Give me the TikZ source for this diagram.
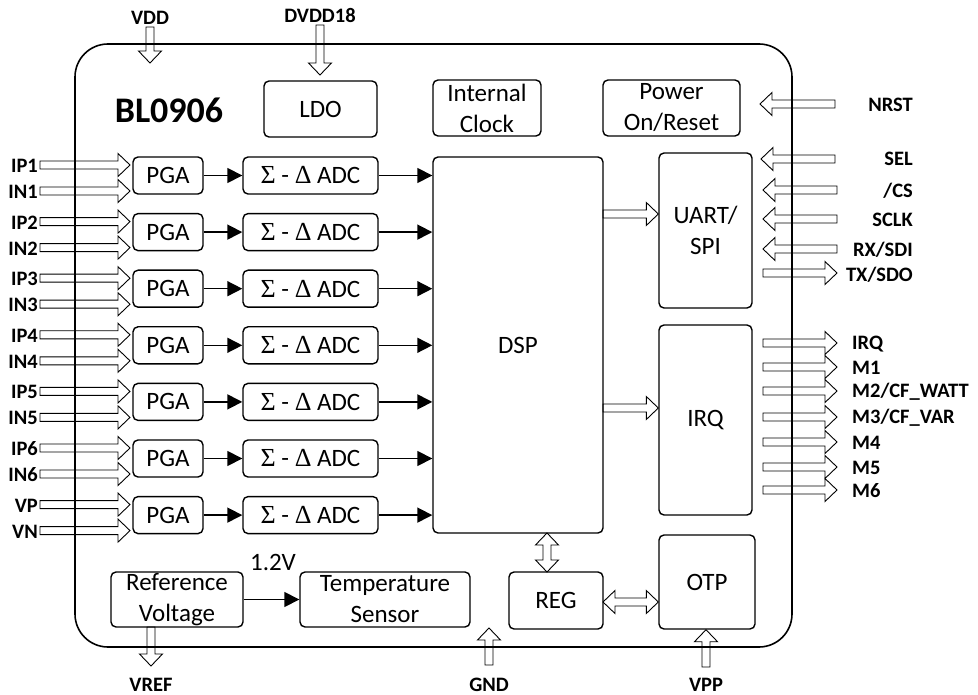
\documentclass[tikz,border=0pt]{standalone}
\usepackage{fontspec}
\setmainfont{Carlito}
\newfontfamily\grk{Liberation Serif}
\usetikzlibrary{arrows.meta,calc}
\tikzset{
 box/.style={draw, line width=1.4pt, rounded corners=5pt, align=center, inner sep=0pt, font=\fontsize{25}{31}\selectfont},
 blk/.style={draw, line width=0.9pt, line join=miter},
 pin/.style={font=\fontsize{20.5}{24}\selectfont\bfseries, inner sep=0pt},
 conn/.style={line width=1.6pt, -{Triangle[length=15pt,width=15pt]}},
 plain/.style={font=\fontsize{25}{30}\selectfont, inner sep=0pt},
}
% hollow block arrows between two points (tip at second)
\newcommand{\arrR}[2]{\draw[blk] let \p1=(#1), \p2=(#2) in (\x1,\y1+4pt) -- (\x2-12pt,\y1+4pt) -- (\x2-12pt,\y1+11.5pt) -- (\x2,\y1) -- (\x2-12pt,\y1-11.5pt) -- (\x2-12pt,\y1-4pt) -- (\x1,\y1-4pt) -- cycle;}
\newcommand{\arrL}[2]{\draw[blk] let \p1=(#1), \p2=(#2) in (\x1,\y1+4pt) -- (\x2+12pt,\y1+4pt) -- (\x2+12pt,\y1+11.5pt) -- (\x2,\y1) -- (\x2+12pt,\y1-11.5pt) -- (\x2+12pt,\y1-4pt) -- (\x1,\y1-4pt) -- cycle;}
\newcommand{\arrD}[2]{\draw[blk] let \p1=(#1), \p2=(#2) in (\x1-4pt,\y1) -- (\x1-4pt,\y2+12pt) -- (\x1-11.5pt,\y2+12pt) -- (\x1,\y2) -- (\x1+11.5pt,\y2+12pt) -- (\x1+4pt,\y2+12pt) -- (\x1+4pt,\y1) -- cycle;}
\newcommand{\arrU}[2]{\draw[blk] let \p1=(#1), \p2=(#2) in (\x1-4pt,\y1) -- (\x1-4pt,\y2-12pt) -- (\x1-11.5pt,\y2-12pt) -- (\x1,\y2) -- (\x1+11.5pt,\y2-12pt) -- (\x1+4pt,\y2-12pt) -- (\x1+4pt,\y1) -- cycle;}
\newcommand{\darrH}[2]{\draw[blk] let \p1=(#1), \p2=(#2) in (\x1,\y1) -- (\x1+12pt,\y1+11.5pt) -- (\x1+12pt,\y1+4pt) -- (\x2-12pt,\y1+4pt) -- (\x2-12pt,\y1+11.5pt) -- (\x2,\y1) -- (\x2-12pt,\y1-11.5pt) -- (\x2-12pt,\y1-4pt) -- (\x1+12pt,\y1-4pt) -- (\x1+12pt,\y1-11.5pt) -- cycle;}
\newcommand{\darrV}[2]{\draw[blk] let \p1=(#1), \p2=(#2) in (\x1,\y1) -- (\x1+11.5pt,\y1-12pt) -- (\x1+4pt,\y1-12pt) -- (\x1+4pt,\y2+12pt) -- (\x1+11.5pt,\y2+12pt) -- (\x1,\y2) -- (\x1-11.5pt,\y2+12pt) -- (\x1-4pt,\y2+12pt) -- (\x1-4pt,\y1-12pt) -- (\x1-11.5pt,\y1-12pt) -- cycle;}
\begin{document}
\begin{tikzpicture}[x=1pt,y=-1pt]
\useasboundingbox (0,0) rectangle (978,695);
% chip outline
\draw[line width=1.6pt, rounded corners=33pt] (75,44) rectangle (792,647);
\node[font=\fontsize{36}{42}\selectfont\bfseries, inner sep=0pt] (title) at (169,110) {BL0906};
% top blocks
\node[box, minimum width=113pt, minimum height=56pt] (ldo) at (320.5,109) {LDO};
\node[box, minimum width=108pt, minimum height=56pt] (clk) at (487,108) {Internal\\Clock};
\node[box, minimum width=137pt, minimum height=56pt] (por) at (671.5,108) {Power\\On/Reset};
% main blocks
\node[box, minimum width=170pt, minimum height=376pt] (dsp) at (518,345) {DSP};
\node[box, minimum width=93pt, minimum height=155pt] (uart) at (705.5,230.5) {UART/\\SPI};
\node[box, minimum width=93pt, minimum height=190pt] (irq) at (705.5,420) {IRQ};
\node[box, minimum width=96pt, minimum height=94pt] (otp) at (707,582) {OTP};
\node[box, minimum width=94pt, minimum height=57pt] (reg) at (556,600.5) {REG};
\node[box, minimum width=132pt, minimum height=55pt] (ref) at (177,599.5) {Reference\\Voltage};
\node[box, minimum width=170pt, minimum height=55pt] (temp) at (385,599.5) {Temperature\\Sensor};
% PGA / ADC rows
\foreach \pp/\nn [count=\i from 0] in {IP1/IN1,IP2/IN2,IP3/IN3,IP4/IN4,IP5/IN5,IP6/IN6,VP/VN}{
  \pgfmathsetmacro\yc{175.5+56.6*\i}
  \pgfmathsetmacro\ya{\yc-10.5}
  \pgfmathsetmacro\yb{\yc+15.5}
  \node[box, minimum width=70pt, minimum height=37pt] (pga\i) at (168,\yc) {PGA};
  \node[box, minimum width=135pt, minimum height=37pt] (adc\i) at (310.5,\yc) {{\grk\fontsize{26}{30}\selectfont Σ} - {\grk\fontsize{26}{30}\selectfont Δ} ADC};
  \draw[conn] (pga\i.east) -- (adc\i.west);
  \draw[conn] (adc\i.east) -- (adc\i.east -| dsp.west);
  \coordinate (inp\i) at (40,\ya);
  \coordinate (inn\i) at (40,\yb);
  \coordinate (tipp\i) at (130,\ya);
  \coordinate (tipn\i) at (130,\yb);
  \arrR{inp\i}{tipp\i}
  \arrR{inn\i}{tipn\i}
  \node[pin, anchor=east] (lp\i) at (38,\ya+1) {\pp};
  \node[pin, anchor=east] (ln\i) at (38,\yb+1) {\nn};
}
% internal block arrows
\coordinate (d2u) at (603,214);
\coordinate (d2i) at (603,408);
\arrR{d2u}{uart.west |- d2u}
\arrR{d2i}{irq.west |- d2i}
\coordinate (r2o) at (603,602);
\darrH{r2o}{otp.west |- r2o}
\coordinate (d2r) at (547,533);
\coordinate (r2d) at (547,572);
\darrV{d2r}{r2d}
% reference -> temperature
\draw[conn] (ref.east) -- (temp.west);
\node[plain] (v12) at (273,562) {1.2V};
% top pins
\coordinate (vddP) at (150,27);
\coordinate (vddT) at (150,63);
\arrD{vddP}{vddT}
\node[pin] (vddL) at (150,18) {VDD};
\coordinate (dvddP) at (320,25);
\coordinate (dvddT) at (320,75);
\arrD{dvddP}{dvddT}
\node[pin] (dvddL) at (320,16) {DVDD18};
% right input pins
\coordinate (nrstP) at (835,104); \coordinate (nrstT) at (760,104);
\arrL{nrstP}{nrstT}
\node[pin, anchor=east] (nrstL) at (913,105) {NRST};
\coordinate (selP) at (835,159); \coordinate (selT) at (761,159);
\arrL{selP}{selT}
\node[pin, anchor=east] (selL) at (913,159) {SEL};
\coordinate (csP) at (837,190); \coordinate (csT) at (763,190);
\arrL{csP}{csT}
\node[pin, anchor=east] (csL) at (913,191) {/CS};
\coordinate (sclkP) at (837,219); \coordinate (sclkT) at (763,219);
\arrL{sclkP}{sclkT}
\node[pin, anchor=east] (sclkL) at (913,220) {SCLK};
\coordinate (rxP) at (837,249); \coordinate (rxT) at (763,249);
\arrL{rxP}{rxT}
\node[pin, anchor=east] (rxL) at (913,250) {RX/SDI};
\coordinate (txP) at (763,273); \coordinate (txT) at (837,273);
\arrR{txP}{txT}
\node[pin, anchor=east] (txL) at (913,275) {TX/SDO};
% right output pins
\foreach \yy [count=\k] in {343,367,391,417,442,467,490}{
  \coordinate (outP\k) at (763,\yy);
  \coordinate (outT\k) at (837,\yy);
  \arrR{outP\k}{outT\k}
}
\node[pin, anchor=west] (o1) at (852,344) {IRQ};
\node[pin, anchor=west] (o2) at (852,368) {M1};
\node[pin, anchor=west] (o3) at (852,392) {M2/CF\_WATT};
\node[pin, anchor=west] (o4) at (852,418) {M3/CF\_VAR};
\node[pin, anchor=west] (o5) at (852,443) {M4};
\node[pin, anchor=west] (o6) at (852,468) {M5};
\node[pin, anchor=west] (o7) at (852,491) {M6};
% bottom pins
\coordinate (vrefP) at (151,627); \coordinate (vrefT) at (151,666);
\arrD{vrefP}{vrefT}
\node[pin] (vrefL) at (151,685) {VREF};
\coordinate (gndP) at (489,665); \coordinate (gndT) at (489,628);
\arrU{gndP}{gndT}
\node[pin] (gndL) at (489,685) {GND};
\coordinate (vppP) at (706,667);
\arrU{vppP}{otp.south -| vppP}
\node[pin] (vppL) at (706,685) {VPP};
\end{tikzpicture}
\end{document}
